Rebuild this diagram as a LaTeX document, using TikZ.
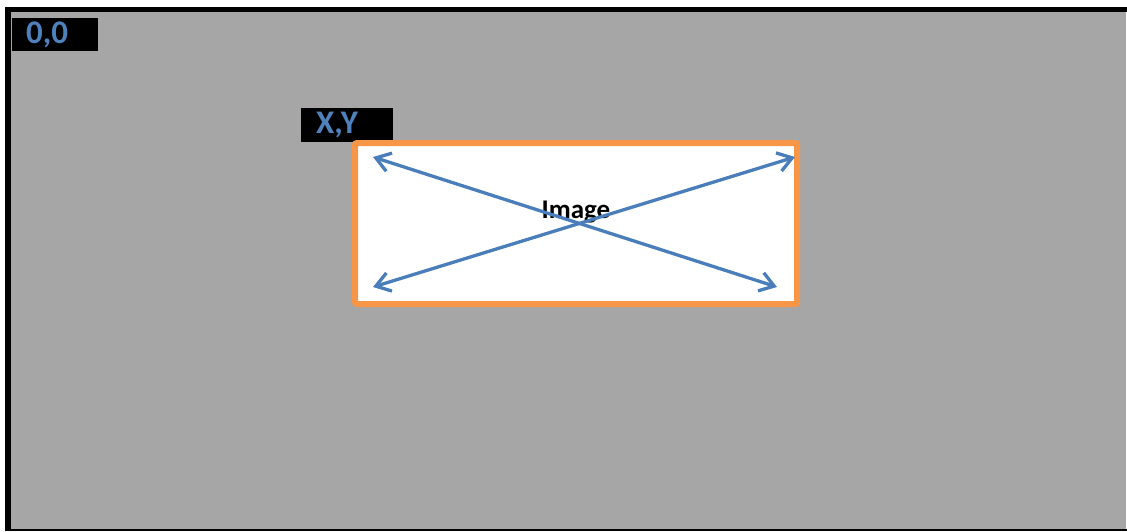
\documentclass[tikz,border=0pt]{standalone}
\usepackage{fontspec}
\setmainfont{Carlito}
\usetikzlibrary{arrows.meta}
\definecolor{bggray}{HTML}{A6A6A6}
\definecolor{lblblue}{HTML}{4F81BD}
\definecolor{lblshadow}{HTML}{1F2A3A}
\definecolor{arrblue}{HTML}{4A7EBB}
\definecolor{imgorange}{HTML}{F79646}
\tikzset{
  labelbox/.style={fill=black, text=lblblue, font=\fontsize{33}{33}\selectfont\bfseries, anchor=north west, minimum height=33pt, inner ysep=0pt, align=left},
  imgbox/.style={draw=imgorange, line width=6pt, fill=white, rounded corners=2pt, minimum width=442pt, minimum height=161pt, inner sep=0pt},
  imgtext/.style={font=\fontsize{27}{27}\selectfont\bfseries, text=black, inner sep=0pt},
  xarrow/.style={draw=arrblue, line width=3.3pt, {Straight Barb[length=14pt,width=19pt]}-{Straight Barb[length=14pt,width=19pt]}}
}
\begin{document}
\begin{tikzpicture}[x=1pt,y=-1pt]
\useasboundingbox (0,0) rectangle (1127,531);
% background
\fill[white] (0,0) rectangle (1127,531);
\fill[bggray] (11,12) rectangle (1126,530);
\fill[black] (5,7) rectangle (1127,12);
\fill[black] (5,7) rectangle (11,531);
\fill[black] (5,529) rectangle (1127,530.5);
% labels
\node[labelbox, inner xsep=14pt, text width=58pt] (origin) at (12,18) {0,0};
\node[labelbox, inner xsep=15pt, text width=62pt, minimum height=34pt] (xy) at (301,108) {X,Y};
% image box
\node[imgbox] (img) at (576,223.5) {};
\node[imgtext] (imglabel) at (576,212) {Image};
\coordinate (tl) at (373,157);
\coordinate (bl) at (373,287);
\coordinate (tr) at (795,157);
\coordinate (br) at (777,287);
\draw[xarrow] (tl) -- (br);
\draw[xarrow] (bl) -- (tr);
\end{tikzpicture}
\end{document}
